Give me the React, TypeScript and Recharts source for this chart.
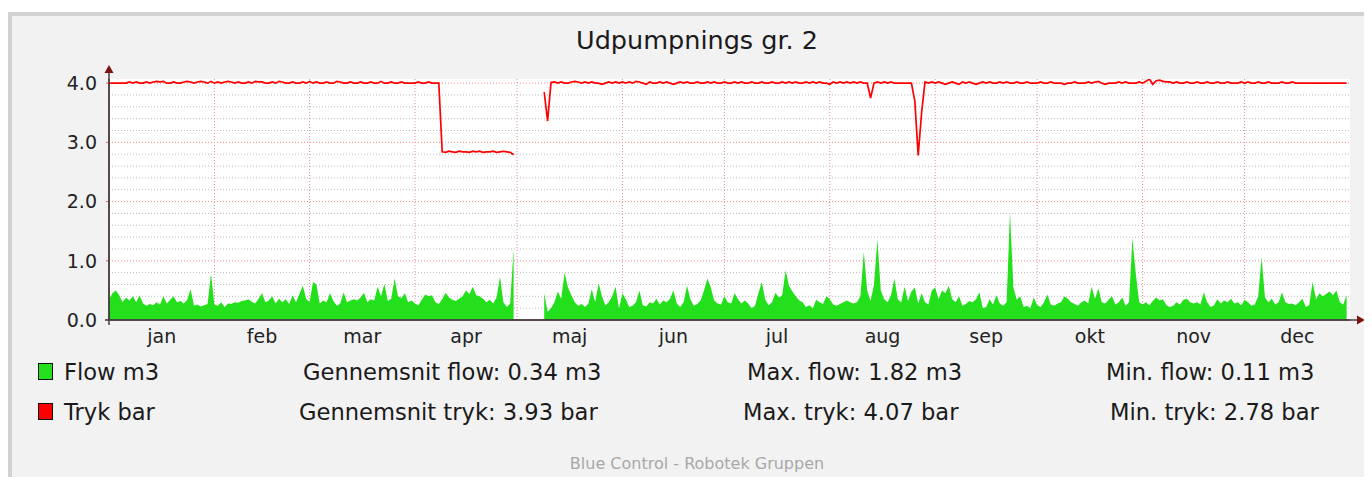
import { Area, CartesianGrid, ComposedChart, Line, ReferenceLine, XAxis, YAxis } from "recharts";

const FONT = '"DejaVu Sans", Verdana, sans-serif';

const months = ["jan", "feb", "mar", "apr", "maj", "jun", "jul", "aug", "sep", "okt", "nov", "dec"];
const monthDays = [31, 28, 31, 30, 31, 30, 31, 31, 30, 31, 30, 31];
const yTicks = [0, 1, 2, 3, 4];
const yMinor = [0.2, 0.4, 0.6, 0.8, 1.2, 1.4, 1.6, 1.8, 2.2, 2.4, 2.6, 2.8, 3.2, 3.4, 3.6, 3.8];

// flow m3, one value per day
const flowJan = [0.35, 0.45, 0.5, 0.42, 0.3, 0.38, 0.33, 0.4, 0.3, 0.42, 0.28, 0.24, 0.27, 0.25, 0.3, 0.26, 0.4, 0.28, 0.34, 0.4, 0.3, 0.32, 0.28, 0.34, 0.52, 0.24, 0.26, 0.23, 0.25, 0.27, 0.78];
const flowFeb = [0.26, 0.24, 0.3, 0.22, 0.28, 0.27, 0.3, 0.29, 0.32, 0.33, 0.35, 0.31, 0.28, 0.36, 0.45, 0.3, 0.33, 0.4, 0.28, 0.36, 0.3, 0.35, 0.27, 0.42, 0.3, 0.44, 0.58, 0.36];
const flowMar = [0.3, 0.64, 0.6, 0.28, 0.33, 0.3, 0.45, 0.32, 0.24, 0.28, 0.47, 0.3, 0.33, 0.35, 0.33, 0.38, 0.46, 0.3, 0.35, 0.33, 0.56, 0.4, 0.61, 0.32, 0.36, 0.7, 0.4, 0.37, 0.45, 0.3, 0.33];
const flowApr = [0.28, 0.25, 0.34, 0.43, 0.4, 0.42, 0.3, 0.27, 0.35, 0.46, 0.38, 0.34, 0.32, 0.36, 0.4, 0.5, 0.44, 0.56, 0.42, 0.4, 0.36, 0.3, 0.34, 0.28, 0.38, 0.73, 0.3, 0.22, 0.28, 1.2];
const flowMaj = [null, null, null, null, null, null, null, null, 0.45, 0.14, 0.2, 0.3, 0.48, 0.36, 0.8, 0.55, 0.42, 0.3, 0.24, 0.27, 0.22, 0.28, 0.52, 0.3, 0.62, 0.4, 0.25, 0.3, 0.4, 0.56, 0.2];
const flowJun = [0.45, 0.35, 0.22, 0.24, 0.3, 0.5, 0.25, 0.23, 0.3, 0.28, 0.36, 0.26, 0.33, 0.3, 0.36, 0.5, 0.28, 0.22, 0.3, 0.58, 0.35, 0.24, 0.27, 0.33, 0.5, 0.7, 0.55, 0.33, 0.28, 0.26];
const flowJul = [0.4, 0.3, 0.28, 0.45, 0.35, 0.28, 0.33, 0.28, 0.2, 0.24, 0.45, 0.64, 0.35, 0.25, 0.3, 0.46, 0.38, 0.42, 0.84, 0.58, 0.48, 0.4, 0.33, 0.3, 0.22, 0.25, 0.2, 0.34, 0.3, 0.27, 0.4];
const flowAug = [0.35, 0.26, 0.24, 0.27, 0.3, 0.33, 0.3, 0.28, 0.3, 0.4, 1.15, 0.5, 0.32, 0.6, 1.36, 0.5, 0.35, 0.3, 0.42, 0.7, 0.35, 0.3, 0.56, 0.32, 0.48, 0.55, 0.28, 0.45, 0.3, 0.26, 0.5];
const flowSep = [0.55, 0.35, 0.5, 0.45, 0.58, 0.35, 0.3, 0.4, 0.24, 0.27, 0.32, 0.3, 0.35, 0.47, 0.2, 0.22, 0.35, 0.26, 0.42, 0.28, 0.24, 0.3, 1.82, 0.55, 0.34, 0.4, 0.22, 0.24, 0.2, 0.38];
const flowOkt = [0.25, 0.22, 0.3, 0.43, 0.26, 0.24, 0.28, 0.3, 0.4, 0.36, 0.3, 0.27, 0.24, 0.3, 0.33, 0.28, 0.56, 0.36, 0.53, 0.3, 0.28, 0.34, 0.4, 0.26, 0.3, 0.38, 0.24, 0.3, 1.38, 0.78, 0.3];
const flowNov = [0.26, 0.3, 0.25, 0.32, 0.38, 0.33, 0.35, 0.25, 0.22, 0.24, 0.3, 0.26, 0.34, 0.36, 0.3, 0.28, 0.3, 0.26, 0.47, 0.3, 0.22, 0.25, 0.35, 0.28, 0.33, 0.3, 0.36, 0.28, 0.3, 0.25];
const flowDec = [0.34, 0.3, 0.24, 0.26, 0.4, 1.06, 0.38, 0.3, 0.36, 0.26, 0.3, 0.47, 0.3, 0.27, 0.28, 0.25, 0.3, 0.36, 0.22, 0.25, 0.64, 0.35, 0.45, 0.4, 0.44, 0.48, 0.42, 0.5, 0.3, 0.26, 0.42];

// tryk bar, one value per day
const trykJan = [4.0, 4.0, 4.0, 4.0, 4.0, 4.0, 4.02, 4.0, 4.02, 4.0, 4.0, 4.02, 4.0, 4.02, 4.03, 4.02, 4.03, 4.0, 4.0, 4.02, 4.0, 4.0, 4.02, 4.03, 4.02, 4.0, 4.02, 4.03, 4.02, 4.0, 4.03];
const trykFeb = [4.0, 4.02, 4.0, 4.02, 4.03, 4.02, 4.0, 4.02, 4.0, 4.0, 4.02, 4.0, 4.03, 4.02, 4.02, 4.0, 4.0, 4.02, 4.0, 4.03, 4.02, 4.0, 4.0, 4.02, 4.0, 4.0, 4.02, 4.0];
const trykMar = [4.03, 4.0, 4.02, 4.0, 4.0, 4.02, 4.0, 4.0, 4.03, 4.02, 4.0, 4.0, 4.02, 4.0, 4.0, 4.02, 4.0, 4.0, 4.02, 4.0, 4.0, 4.03, 4.0, 4.0, 4.02, 4.0, 4.0, 4.02, 4.0, 4.0, 4.0];
const trykApr = [4.0, 4.02, 4.0, 4.0, 4.02, 4.0, 4.0, 4.0, 2.84, 2.83, 2.85, 2.84, 2.83, 2.85, 2.84, 2.84, 2.83, 2.85, 2.84, 2.85, 2.83, 2.84, 2.84, 2.85, 2.83, 2.84, 2.85, 2.84, 2.83, 2.79];
const trykMaj = [null, null, null, null, null, null, null, null, 3.85, 3.36, 4.01, 4.02, 4.0, 4.02, 4.0, 4.0, 4.02, 4.03, 4.02, 4.0, 4.02, 4.0, 4.02, 4.0, 4.0, 3.98, 4.0, 4.02, 4.0, 4.02, 4.0];
const trykJun = [4.02, 4.0, 4.02, 4.0, 4.03, 4.02, 4.0, 3.98, 4.02, 4.0, 4.0, 4.02, 4.0, 4.02, 4.0, 3.98, 4.0, 4.02, 4.0, 4.02, 4.0, 4.0, 4.02, 4.0, 4.0, 4.02, 4.0, 4.02, 4.0, 4.0];
const trykJul = [4.02, 4.0, 4.0, 4.02, 4.0, 4.02, 4.0, 4.0, 4.02, 4.0, 4.0, 4.02, 4.0, 4.0, 4.02, 4.0, 4.0, 4.02, 4.0, 4.02, 4.0, 4.02, 4.0, 4.0, 4.02, 4.0, 4.02, 4.0, 4.02, 4.0, 4.0];
const trykAug = [3.98, 4.02, 4.0, 4.02, 4.0, 4.02, 4.0, 4.02, 4.0, 4.02, 4.0, 4.0, 3.75, 4.0, 4.02, 4.0, 4.02, 4.0, 4.02, 4.0, 4.0, 4.0, 4.0, 4.0, 4.0, 3.7, 2.78, 3.5, 4.02, 4.0, 4.02];
const trykSep = [4.0, 4.02, 4.0, 3.98, 4.0, 4.02, 4.0, 3.98, 4.02, 4.0, 4.02, 4.0, 3.98, 4.0, 4.02, 4.0, 4.02, 4.0, 4.0, 4.02, 4.0, 4.02, 4.0, 4.0, 4.02, 4.0, 4.0, 4.02, 4.0, 4.0];
const trykOkt = [4.0, 4.02, 4.0, 4.0, 4.02, 4.0, 4.0, 4.0, 3.98, 4.0, 4.0, 4.02, 4.0, 4.0, 4.0, 4.02, 4.0, 4.02, 4.03, 4.0, 3.98, 4.0, 4.0, 4.0, 4.02, 4.0, 4.02, 4.0, 4.0, 4.0, 4.02];
const trykNov = [4.0, 4.03, 4.07, 3.98, 4.04, 4.05, 4.03, 4.02, 4.02, 4.0, 4.02, 4.0, 4.0, 4.02, 4.0, 4.0, 4.02, 4.0, 4.0, 4.02, 4.0, 4.0, 4.02, 4.0, 4.0, 4.02, 4.0, 4.0, 4.0, 4.02];
const trykDec = [4.0, 4.02, 4.0, 4.0, 4.02, 4.0, 4.0, 4.02, 4.0, 4.0, 4.0, 4.02, 4.0, 4.0, 4.02, 4.0, 4.0, 4.0, 4.0, 4.0, 4.0, 4.0, 4.0, 4.0, 4.0, 4.0, 4.0, 4.0, 4.0, 4.0, 4.0];

const legendRows = [
  { name: "Flow m3", avg: "Gennemsnit flow: 0.34 m3", max: "Max. flow: 1.82 m3", min: "Min. flow: 0.11 m3" },
  { name: "Tryk bar", avg: "Gennemsnit tryk: 3.93 bar", max: "Max. tryk: 4.07 bar", min: "Min. tryk: 2.78 bar" },
];

const flowMonths = [flowJan, flowFeb, flowMar, flowApr, flowMaj, flowJun, flowJul, flowAug, flowSep, flowOkt, flowNov, flowDec];
const trykMonths = [trykJan, trykFeb, trykMar, trykApr, trykMaj, trykJun, trykJul, trykAug, trykSep, trykOkt, trykNov, trykDec];

const monthStarts = monthDays.map((_, i) => monthDays.slice(0, i).reduce((a, b) => a + b, 0));
const monthMids = monthStarts.map((s, i) => s + monthDays[i] / 2);

const rows = flowMonths.flatMap((flow, m) =>
  flow.map((v, i) => ({ day: monthStarts[m] + i, flow: v, tryk: trykMonths[m][i] }))
);

// layout (root coordinates, root sits at 8,8 on the page)
const W = 1364;
const H = 350;
const PLOT = { left: 101, top: 71, right: 1342, bottom: 312 };
const Y_AXIS_W = 60;
const X_AXIS_H = 30;
const AXIS_COLOR = "#4a3c3c";
const ARROW_COLOR = "#7a1414";
const SERIES_COLORS = ["#24e01c", "#ff0000"];
const LEGEND_TOP = [351, 391];
const LEGEND_X = [
  [295, 739, 1098],
  [291, 735, 1102],
];

const legendText: React.CSSProperties = {
  position: "absolute",
  fontFamily: FONT,
  fontSize: 22.6,
  lineHeight: "26px",
  color: "#1a1a1a",
  whiteSpace: "nowrap",
};

export default function App() {
  return (
    <div style={{ position: "relative", width: W, height: 469 }}>
      <div
        style={{
          position: "absolute",
          left: 0,
          top: 4,
          width: 1361,
          height: 480,
          boxSizing: "border-box",
          border: "4px solid #d2d2d2",
          background: "#f2f2f2",
        }}
      />
      <div
        style={{
          position: "absolute",
          left: 689,
          top: 17,
          transform: "translateX(-50%)",
          fontFamily: FONT,
          fontSize: 25.5,
          lineHeight: "30px",
          color: "#1a1a1a",
          whiteSpace: "nowrap",
        }}
      >
        Udpumpnings gr. 2
      </div>
      <div style={{ position: "absolute", left: 0, top: 0 }}>
        <ComposedChart
          width={W}
          height={H}
          data={rows}
          margin={{
            top: PLOT.top,
            right: W - PLOT.right,
            left: PLOT.left - Y_AXIS_W,
            bottom: H - PLOT.bottom - X_AXIS_H,
          }}
        >
          <CartesianGrid fill="#ffffff" horizontal={false} vertical={false} />
          <XAxis
            type="number"
            dataKey="day"
            domain={[0, 365]}
            ticks={monthMids}
            interval={0}
            tickFormatter={(d) => months[monthMids.indexOf(d)]}
            height={X_AXIS_H}
            axisLine={{ stroke: AXIS_COLOR, strokeWidth: 1.5 }}
            tickLine={false}
            tickSize={6}
            tickMargin={4}
            tick={{ fontSize: 19, fill: "#222", fontFamily: FONT }}
          />
          <YAxis
            domain={[0, 4.07]}
            ticks={yTicks}
            allowDataOverflow
            tickFormatter={(v) => Number(v).toFixed(1)}
            width={Y_AXIS_W}
            axisLine={{ stroke: AXIS_COLOR, strokeWidth: 1.5 }}
            tickLine={{ stroke: "#e06060" }}
            tickSize={3}
            tickMargin={9}
            tick={{ fontSize: 19, fill: "#222", fontFamily: FONT }}
          />
          {yMinor.map((v) => (
            <ReferenceLine key={`mi${v}`} y={v} stroke="#bcbcbc" strokeDasharray="1 2" zIndex={-50} />
          ))}
          {yTicks.slice(1).map((v) => (
            <ReferenceLine key={`ma${v}`} y={v} stroke="#f08c8c" strokeDasharray="1 2" zIndex={-50} />
          ))}
          {monthStarts.slice(1).map((d) => (
            <ReferenceLine key={`m${d}`} x={d} stroke="#f08c8c" strokeDasharray="1 2" zIndex={-50} />
          ))}
          <Area
            dataKey="flow"
            type="linear"
            fill={SERIES_COLORS[0]}
            fillOpacity={1}
            stroke="none"
            connectNulls={false}
            dot={false}
            activeDot={false}
            isAnimationActive={false}
          />
          <Line
            dataKey="tryk"
            type="linear"
            stroke={SERIES_COLORS[1]}
            strokeWidth={1.7}
            dot={false}
            activeDot={false}
            connectNulls={false}
            isAnimationActive={false}
          />
        </ComposedChart>
      </div>
      <svg width={W} height={H} style={{ position: "absolute", left: 0, top: 0, pointerEvents: "none" }}>
        <line x1={PLOT.left} y1={PLOT.top - 6} x2={PLOT.left} y2={PLOT.bottom + 5} stroke={AXIS_COLOR} strokeWidth={1.5} />
        <line x1={PLOT.left - 4} y1={PLOT.bottom} x2={PLOT.right + 8} y2={PLOT.bottom} stroke={AXIS_COLOR} strokeWidth={1.5} />
        <polygon
          points={`${PLOT.left - 4.5},${PLOT.top - 6} ${PLOT.left + 4.5},${PLOT.top - 6} ${PLOT.left},${PLOT.top - 14}`}
          fill={ARROW_COLOR}
        />
        <polygon
          points={`${PLOT.right + 7},${PLOT.bottom - 4.5} ${PLOT.right + 7},${PLOT.bottom + 4.5} ${PLOT.right + 15},${PLOT.bottom}`}
          fill={ARROW_COLOR}
        />
      </svg>
      {legendRows.map((r, i) => (
        <div key={r.name}>
          <div
            style={{
              position: "absolute",
              left: 30,
              top: LEGEND_TOP[i] + 4,
              width: 13,
              height: 15,
              border: "1px solid #111",
              background: SERIES_COLORS[i],
            }}
          />
          <div style={{ ...legendText, left: 56, top: LEGEND_TOP[i] }}>{r.name}</div>
          <div style={{ ...legendText, left: LEGEND_X[i][0], top: LEGEND_TOP[i] }}>{r.avg}</div>
          <div style={{ ...legendText, left: LEGEND_X[i][1], top: LEGEND_TOP[i] }}>{r.max}</div>
          <div style={{ ...legendText, left: LEGEND_X[i][2], top: LEGEND_TOP[i] }}>{r.min}</div>
        </div>
      ))}
      <div
        style={{
          position: "absolute",
          left: 689,
          top: 447,
          transform: "translateX(-50%)",
          fontFamily: FONT,
          fontSize: 16,
          lineHeight: "18px",
          color: "#a8a8a8",
          whiteSpace: "nowrap",
        }}
      >
        Blue Control - Robotek Gruppen
      </div>
    </div>
  );
}
